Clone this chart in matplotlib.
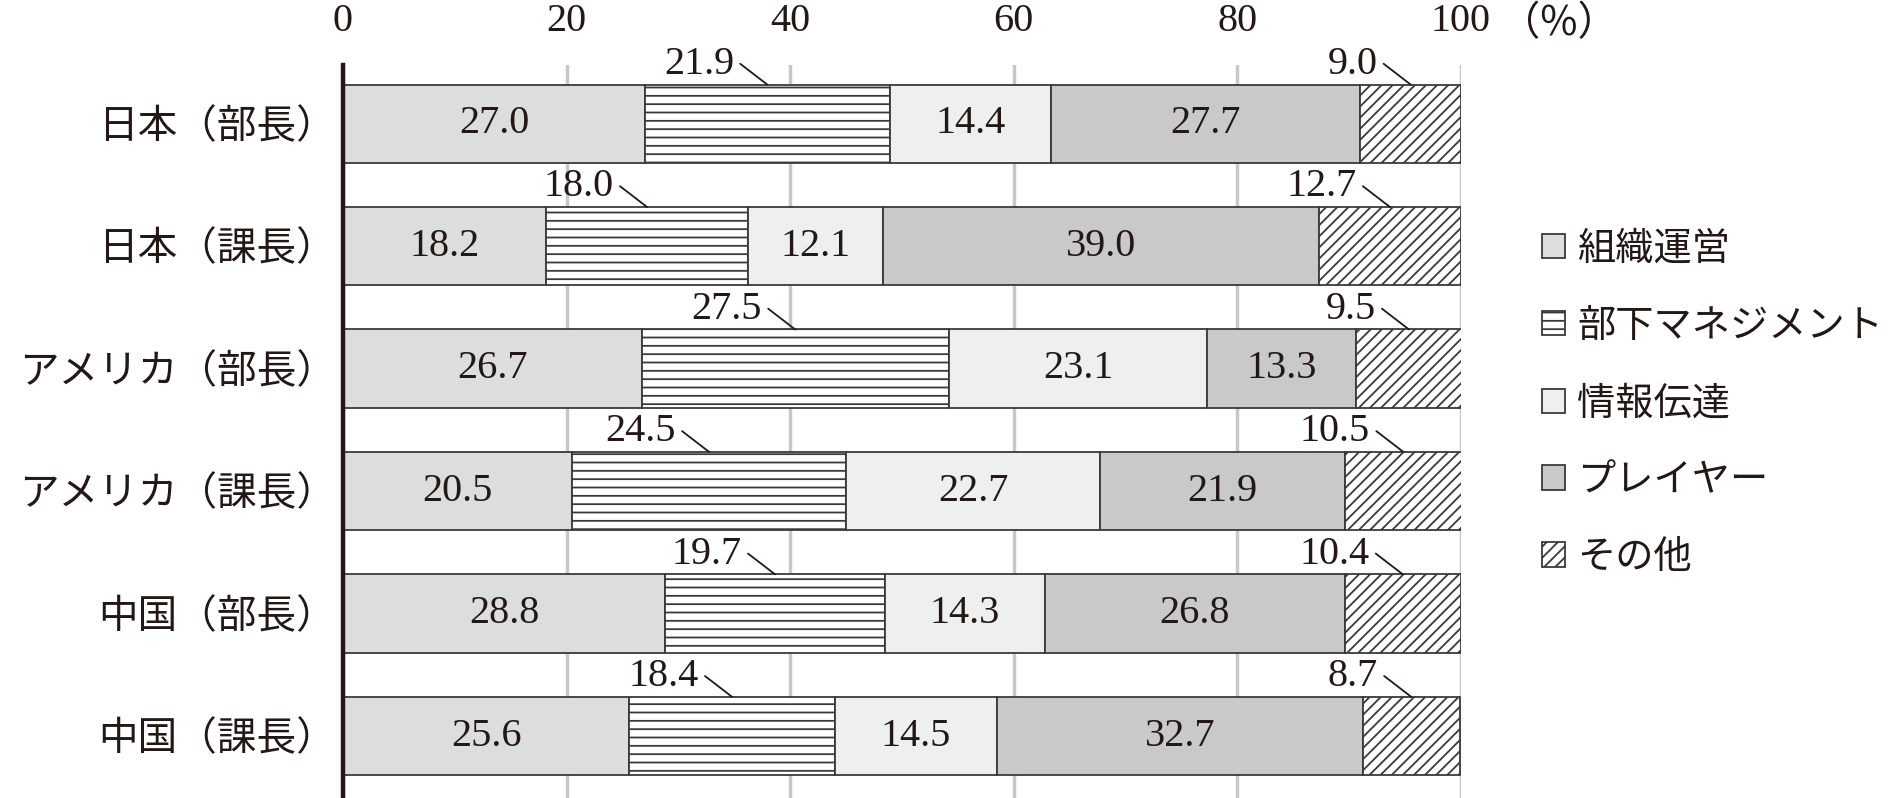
import matplotlib.pyplot as plt
from matplotlib.patches import Patch
import numpy as np

plt.rcParams['font.family'] = ['Liberation Serif', 'Noto Sans CJK JP']
plt.rcParams['hatch.color'] = '#333333'
plt.rcParams['hatch.linewidth'] = 1.3

groups = ['日本（部長）', '日本（課長）', 'アメリカ（部長）', 'アメリカ（課長）', '中国（部長）', '中国（課長）']
items = ['組織運営', '部下マネジメント', '情報伝達', 'プレイヤー', 'その他']

soshiki = [27.0, 18.2, 26.7, 20.5, 28.8, 25.6]
buka = [21.9, 18.0, 27.5, 24.5, 19.7, 18.4]
joho = [14.4, 12.1, 23.1, 22.7, 14.3, 14.5]
player = [27.7, 39.0, 13.3, 21.9, 26.8, 32.7]
sonota = [9.0, 12.7, 9.5, 10.5, 10.4, 8.7]

xticks = [0, 20, 40, 60, 80, 100]

series = [soshiki, buka, joho, player, sonota]
colors = ['#dcdddd', 'white', '#eeefef', '#c9c9c9', 'white']
hatches = [None, '--', None, None, '///']
inside = [True, False, True, True, False]
ink = '#231815'

fig = plt.figure(figsize=(18.93, 7.98), dpi=100)
ax = fig.add_axes([343 / 1893, 0, (1461 - 343) / 1893, 1 - 65 / 798])

y = np.arange(len(groups))
left = np.zeros(len(groups))
for vals, c, h, ins in zip(series, colors, hatches, inside):
    vals = np.array(vals)
    ax.barh(y, vals, left=left, height=0.64, color=c, hatch=h,
            edgecolor='#3a3a3a', linewidth=1.3, zorder=3)
    for i, v in enumerate(vals):
        cx = left[i] + v / 2
        if ins:
            ax.text(cx, y[i], f'{v:.1f}', ha='center', va='center',
                    fontsize=29, color=ink, zorder=4)
        else:
            # small values sit above the bar with a leader line
            top = y[i] - 0.32
            ax.annotate('', xy=(cx, top), xytext=(-19.5, 15),
                        textcoords='offset points',
                        arrowprops=dict(arrowstyle='-', color=ink, lw=1.3,
                                        shrinkA=0, shrinkB=0))
            ax.annotate(f'{v:.1f}', xy=(cx, top), xytext=(-24, 14.5),
                        textcoords='offset points', ha='right', va='center',
                        fontsize=29, color=ink)
    left += vals

ax.set_xlim(0, 100)
ax.set_ylim(5.506, -0.48)
ax.set_yticks(y)
ax.set_yticklabels(groups, fontsize=28.5, color=ink)
ax.xaxis.tick_top()
ax.set_xticks(xticks)
ax.set_xticklabels([str(t) for t in xticks], fontsize=29, color=ink)
ax.tick_params(axis='both', length=0)
ax.tick_params(axis='x', pad=18)
ax.tick_params(axis='y', pad=5)
fig.text(1500 / 1893, 1 - 24 / 798, '（%）', fontsize=29, ha='left', va='center',
         color=ink, family=['Noto Sans CJK JP'])

ax.grid(axis='x', color='#c8c8c8', linewidth=2.5, zorder=0)
for s in ['top', 'right', 'bottom']:
    ax.spines[s].set_visible(False)
ax.spines['left'].set_linewidth(3.2)
ax.spines['left'].set_color(ink)
ax.spines['left'].set_zorder(5)

handles = [Patch(facecolor=c, hatch=h, edgecolor='#3a3a3a', linewidth=1.3)
           for c, h in zip(colors, hatches)]
fig.legend(handles, items, loc='center left', bbox_to_anchor=(1542 / 1893, 1 - 404 / 798),
           frameon=False, fontsize=27.5, handlelength=0.6, handleheight=0.6,
           handletextpad=0.32, labelspacing=1.1, borderpad=0, borderaxespad=0,
           labelcolor=ink)

fig.savefig('out.png', dpi=100)
